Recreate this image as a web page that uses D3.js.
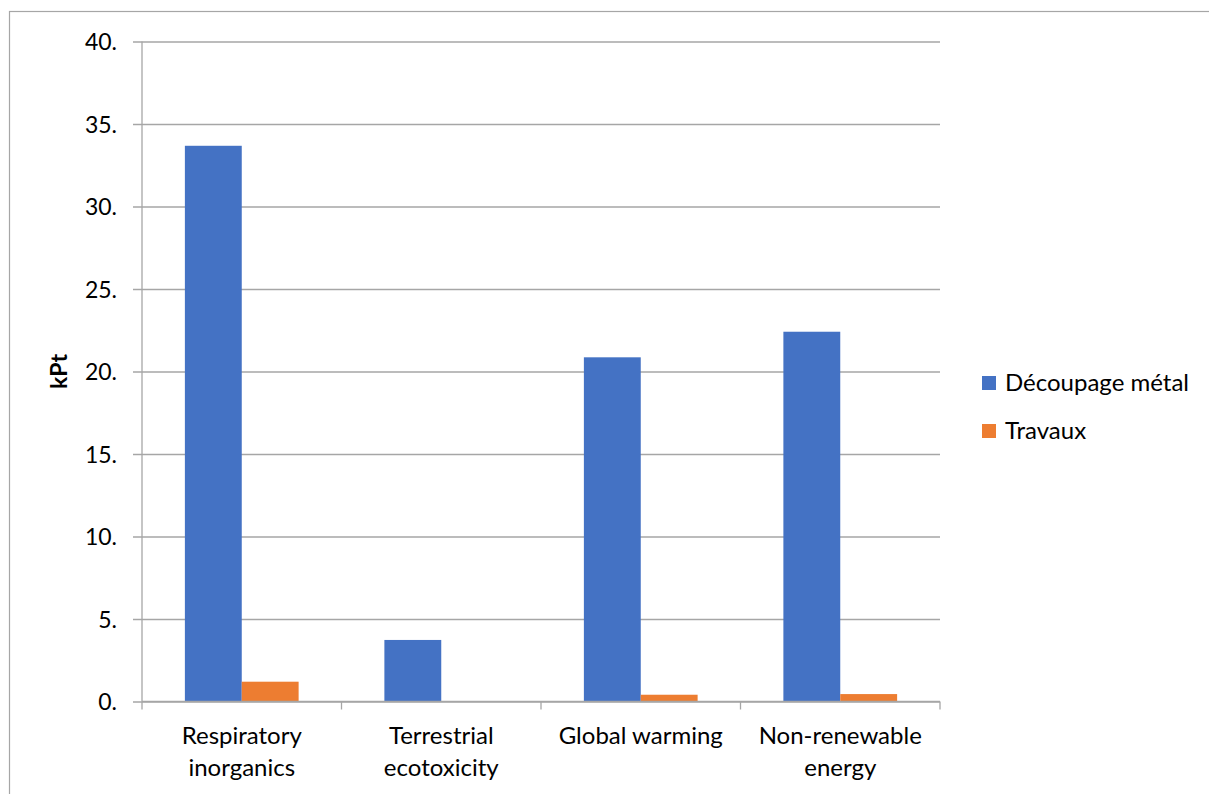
<!DOCTYPE html>
<html>
<head>
<meta charset="utf-8">
<script src="https://cdn.jsdelivr.net/npm/d3@7"></script>
<style>
  html, body { margin: 0; padding: 0; background: #fff; }
  svg { display: block; }
  text { font-family: Lato, "Open Sans", sans-serif; fill: #000; }
</style>
</head>
<body>
<svg id="chart" width="1209" height="794"></svg>
<script>
// Impact categories (two-line labels) and series values in kPt
const categories = [
  ["Respiratory", "inorganics"],
  ["Terrestrial", "ecotoxicity"],
  ["Global warming"],
  ["Non-renewable", "energy"]
];
const seriesNames = ["Découpage métal", "Travaux"];
const decoupageMetal = [33.68, 3.73, 20.86, 22.41];
const travaux = [1.2, 0.03, 0.41, 0.45];
const yTicks = [0, 5, 10, 15, 20, 25, 30, 35, 40];
const colors = ["#4472c4", "#ed7d31"];

const svg = d3.select("#chart");
const plot = { left: 142, right: 940, top: 41.5, bottom: 701.5 };

// Outer chart frame
svg.append("rect")
  .attr("x", 9.5).attr("y", 11.5)
  .attr("width", 1209).attr("height", 800)
  .attr("fill", "none").attr("stroke", "#a6a6a6").attr("stroke-width", 1.2);

const keys = categories.map((c, i) => i);
const x = d3.scaleBand().domain(keys).range([plot.left, plot.right]).paddingInner(0).paddingOuter(0);
const xInner = d3.scaleBand().domain([0, 1]).range([0, x.bandwidth()]).paddingInner(0).paddingOuter(0.754);
const y = d3.scaleLinear().domain([0, 40]).range([plot.bottom, plot.top]);

// Horizontal gridlines with short left tick marks
const yAxis = d3.axisLeft(y)
  .tickValues(yTicks)
  .tickSize(-(plot.right - plot.left))
  .tickSizeOuter(0)
  .tickFormat(d => d + ".");
const gy = svg.append("g").attr("transform", `translate(${plot.left},0)`).call(yAxis);
gy.select(".domain").remove();
gy.selectAll(".tick line")
  .attr("x1", -9)
  .attr("stroke", "#a6a6a6").attr("stroke-width", 1.3);
gy.selectAll(".tick text")
  .attr("x", -25)
  .attr("dy", "0.36em")
  .style("font-size", "23px").style("font-family", "Lato, sans-serif");

// Vertical axis line
svg.append("line")
  .attr("x1", plot.left).attr("x2", plot.left)
  .attr("y1", plot.top).attr("y2", plot.bottom)
  .attr("stroke", "#a6a6a6").attr("stroke-width", 1.3);

// Bars
const data = [decoupageMetal, travaux];
const groups = svg.append("g").selectAll("g")
  .data(keys).join("g")
  .attr("transform", d => `translate(${x(d)},0)`);
groups.selectAll("rect")
  .data(i => data.map((s, k) => ({ k, v: s[i] })))
  .join("rect")
  .attr("x", d => xInner(d.k))
  .attr("width", xInner.bandwidth())
  .attr("y", d => y(d.v))
  .attr("height", d => y(0) - y(d.v))
  .attr("fill", d => colors[d.k]);

// Category axis with boundary ticks
svg.append("line")
  .attr("x1", plot.left).attr("x2", plot.right)
  .attr("y1", plot.bottom).attr("y2", plot.bottom)
  .attr("stroke", "#a6a6a6").attr("stroke-width", 1.3);
const boundaries = keys.map(k => x(k)).concat([plot.right]);
svg.append("g").selectAll("line")
  .data(boundaries).join("line")
  .attr("x1", d => d).attr("x2", d => d)
  .attr("y1", plot.bottom).attr("y2", plot.bottom + 8)
  .attr("stroke", "#a6a6a6").attr("stroke-width", 1.3);

svg.append("g").selectAll("text")
  .data(keys).join("text")
  .attr("text-anchor", "middle")
  .attr("transform", d => `translate(${x(d) + x.bandwidth() / 2},744)`)
  .style("font-size", "24px")
  .selectAll("tspan")
  .data(d => categories[d]).join("tspan")
  .attr("x", 0)
  .attr("dy", (d, i) => i === 0 ? 0 : 32)
  .text(d => d);

// Y-axis title
svg.append("text")
  .attr("transform", `translate(67,${(plot.top + plot.bottom) / 2}) rotate(-90)`)
  .attr("text-anchor", "middle")
  .style("font-size", "23px").style("font-weight", "bold")
  .text("kPt");

// Legend
const legend = svg.append("g").selectAll("g")
  .data(seriesNames).join("g")
  .attr("transform", (d, i) => `translate(982,${376 + i * 48})`);
legend.append("rect").attr("width", 14).attr("height", 14).attr("fill", (d, i) => colors[i]);
legend.append("text").attr("x", 23).attr("y", 15)
  .style("font-size", "24px").text(d => d);
</script>
</body>
</html>
